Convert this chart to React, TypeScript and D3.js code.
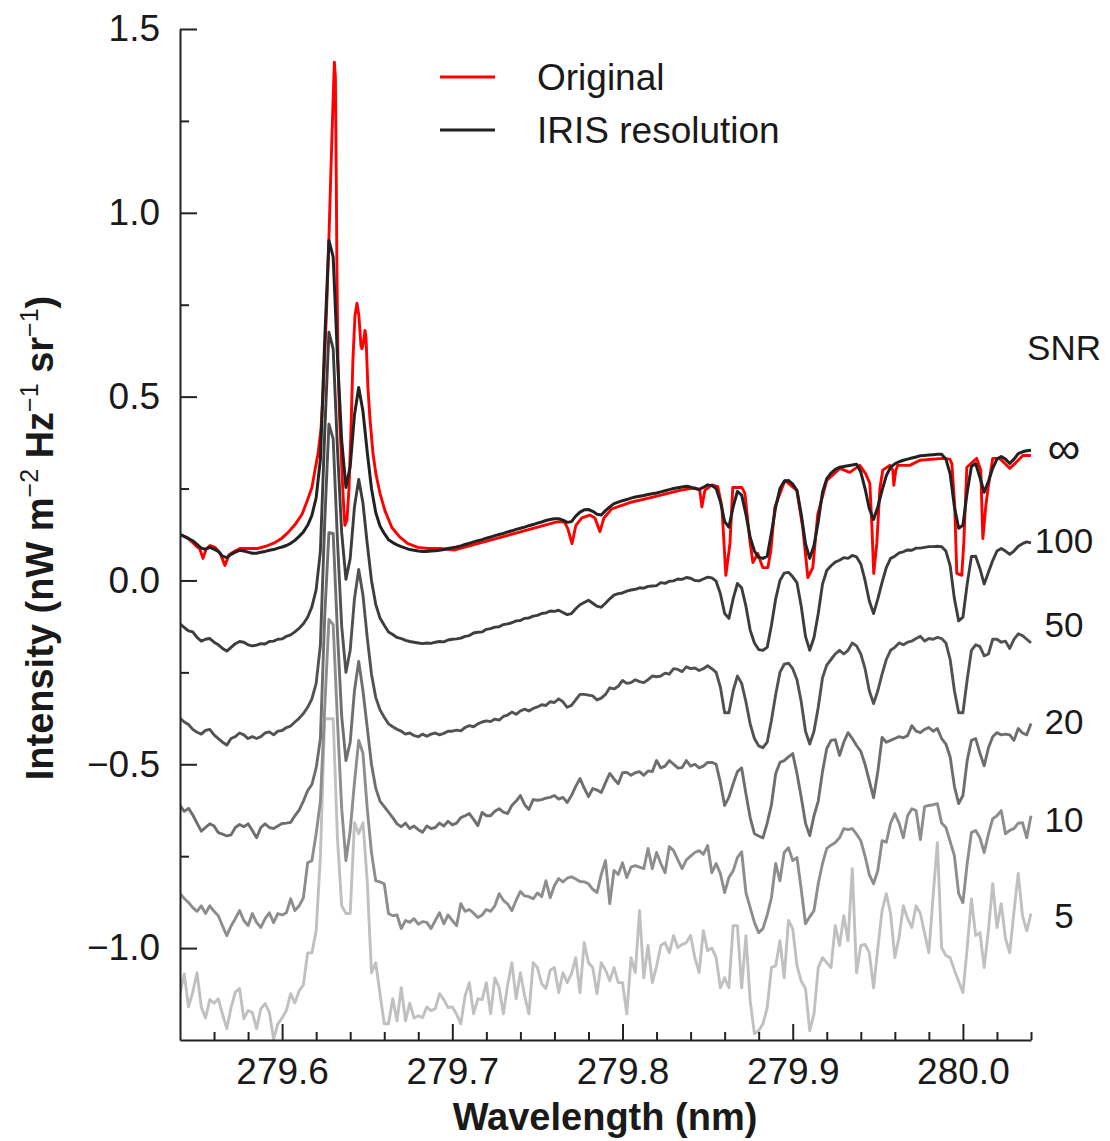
import { useEffect, useRef } from 'react';
import * as d3 from 'd3';

// IRIS detector grid (nm)
const WL_START = 279.54;
const WL_STEP = 0.0025;

// IRIS resolution spectrum (SNR = infinity)
const irisValues = [
  0.125, 0.12, 0.114, 0.108, 0.098, 0.088, 0.085, 0.09, 0.085, 0.079,
  0.066, 0.062, 0.071, 0.077, 0.082, 0.08, 0.077, 0.074, 0.074, 0.077,
  0.079, 0.082, 0.084, 0.088, 0.091, 0.095, 0.101, 0.109, 0.12, 0.132,
  0.15, 0.177, 0.225, 0.33, 0.65, 0.925, 0.88, 0.61, 0.38, 0.253,
  0.31, 0.45, 0.525, 0.46, 0.35, 0.25, 0.185, 0.148, 0.128, 0.111,
  0.103, 0.097, 0.092, 0.088, 0.084, 0.082, 0.08, 0.079, 0.079, 0.08,
  0.081, 0.082, 0.084, 0.087, 0.089, 0.091, 0.094, 0.098, 0.101, 0.105,
  0.108, 0.111, 0.115, 0.118, 0.122, 0.125, 0.128, 0.132, 0.135, 0.139,
  0.142, 0.145, 0.149, 0.152, 0.156, 0.159, 0.163, 0.166, 0.168, 0.168,
  0.164, 0.158, 0.16, 0.175, 0.186, 0.192, 0.193, 0.188, 0.18, 0.178,
  0.19, 0.2, 0.209, 0.213, 0.217, 0.22, 0.224, 0.227, 0.229, 0.231,
  0.234, 0.236, 0.238, 0.241, 0.244, 0.247, 0.25, 0.252, 0.254, 0.256,
  0.254, 0.25, 0.248, 0.253, 0.26, 0.258, 0.25, 0.215, 0.16, 0.145,
  0.2, 0.242, 0.232, 0.18, 0.117, 0.08, 0.063, 0.06, 0.066, 0.13,
  0.2, 0.25, 0.27, 0.272, 0.262, 0.245, 0.18, 0.1, 0.06, 0.095,
  0.16, 0.24, 0.277, 0.292, 0.302, 0.308, 0.31, 0.312, 0.314, 0.316,
  0.295, 0.25, 0.195, 0.166, 0.2, 0.245, 0.285, 0.308, 0.317, 0.323,
  0.327, 0.33, 0.333, 0.336, 0.339, 0.34, 0.341, 0.342, 0.343, 0.343,
  0.33, 0.29, 0.2, 0.142, 0.15, 0.24, 0.31, 0.318, 0.28, 0.24,
  0.27, 0.305, 0.33, 0.337, 0.33, 0.318, 0.33, 0.345, 0.35, 0.353,
  0.354,
];

const snr100Values = [
  -0.118, -0.128, -0.137, -0.14, -0.155, -0.165, -0.16, -0.158, -0.168, -0.175,
  -0.185, -0.192, -0.182, -0.172, -0.166, -0.168, -0.175, -0.178, -0.176, -0.172,
  -0.173, -0.166, -0.165, -0.16, -0.159, -0.152, -0.148, -0.14, -0.13, -0.118,
  -0.1, -0.072, -0.025, 0.08, 0.4, 0.675, 0.63, 0.36, 0.13, 0.003,
  0.06, 0.2, 0.275, 0.21, 0.1, 0.0, -0.065, -0.102, -0.122, -0.14,
  -0.147, -0.155, -0.158, -0.163, -0.166, -0.168, -0.17, -0.172, -0.17, -0.171,
  -0.168, -0.166, -0.167, -0.162, -0.16, -0.159, -0.157, -0.152, -0.15, -0.143,
  -0.141, -0.14, -0.133, -0.131, -0.127, -0.126, -0.12, -0.118, -0.115, -0.11,
  -0.109, -0.103, -0.102, -0.097, -0.095, -0.09, -0.088, -0.083, -0.084, -0.081,
  -0.087, -0.093, -0.09, -0.077, -0.066, -0.06, -0.054, -0.062, -0.07, -0.073,
  -0.062, -0.05, -0.04, -0.036, -0.034, -0.029, -0.026, -0.024, -0.02, -0.021,
  -0.016, -0.015, -0.014, -0.006, -0.008, -0.002, -0.001, 0.004, 0.003, 0.008,
  0.006, 0.0, -0.001, 0.004, 0.009, 0.007, -0.002, -0.036, -0.09, -0.103,
  -0.05, -0.008, -0.02, -0.07, -0.135, -0.17, -0.188, -0.19, -0.182, -0.122,
  -0.05, 0.0, 0.02, 0.022, 0.01, -0.006, -0.07, -0.152, -0.19, -0.155,
  -0.09, -0.01, 0.027, 0.04, 0.05, 0.055, 0.062, 0.06, 0.068, 0.064,
  0.045, 0.0, -0.056, -0.09, -0.05, -0.005, 0.035, 0.06, 0.066, 0.075,
  0.078, 0.083, 0.082, 0.088, 0.088, 0.09, 0.092, 0.092, 0.093, 0.092,
  0.08, 0.04, -0.05, -0.11, -0.1, -0.01, 0.065, 0.066, 0.032, -0.01,
  0.022, 0.054, 0.08, 0.087, 0.08, 0.071, 0.08, 0.093, 0.1, 0.105,
  0.102,
];

const snr50Values = [
  -0.375, -0.385, -0.392, -0.405, -0.413, -0.418, -0.408, -0.405, -0.42, -0.43,
  -0.44, -0.448, -0.43, -0.425, -0.415, -0.42, -0.43, -0.425, -0.43, -0.425,
  -0.415, -0.412, -0.42, -0.41, -0.408, -0.4, -0.396, -0.385, -0.375, -0.362,
  -0.345, -0.322, -0.28, -0.175, 0.155, 0.425, 0.385, 0.11, -0.125, -0.25,
  -0.19, -0.05, 0.03, -0.04, -0.155, -0.255, -0.318, -0.352, -0.372, -0.39,
  -0.398, -0.405, -0.41, -0.418, -0.415, -0.422, -0.425, -0.418, -0.424, -0.418,
  -0.415, -0.42, -0.416, -0.41, -0.41, -0.407, -0.409, -0.4, -0.395, -0.398,
  -0.39, -0.385, -0.382, -0.384, -0.377, -0.38, -0.37, -0.366, -0.358, -0.364,
  -0.355, -0.35, -0.355, -0.348, -0.344, -0.338, -0.34, -0.33, -0.332, -0.322,
  -0.33, -0.345, -0.34, -0.325, -0.31, -0.31, -0.312, -0.314, -0.325, -0.32,
  -0.31, -0.292, -0.295, -0.288, -0.272, -0.28, -0.278, -0.27, -0.275, -0.278,
  -0.27, -0.26, -0.262, -0.26, -0.252, -0.255, -0.24, -0.242, -0.248, -0.235,
  -0.24, -0.238, -0.245, -0.24, -0.232, -0.24, -0.25, -0.29, -0.36, -0.36,
  -0.3, -0.26, -0.28, -0.33, -0.39, -0.43, -0.45, -0.455, -0.44, -0.38,
  -0.31, -0.25, -0.228, -0.225, -0.24, -0.27, -0.33, -0.41, -0.445, -0.41,
  -0.345, -0.265, -0.23, -0.215, -0.2, -0.19, -0.2, -0.19, -0.17, -0.178,
  -0.2, -0.24, -0.3, -0.335, -0.3, -0.255, -0.215, -0.19, -0.182, -0.17,
  -0.175, -0.168, -0.165, -0.158, -0.152, -0.165, -0.158, -0.16, -0.155, -0.158,
  -0.17, -0.215, -0.3, -0.36, -0.36, -0.27, -0.19, -0.175, -0.18, -0.205,
  -0.2, -0.16, -0.16, -0.168, -0.165, -0.185, -0.16, -0.145, -0.15, -0.16,
  -0.17,
];

const snr20Values = [
  -0.612, -0.628, -0.62, -0.638, -0.66, -0.682, -0.672, -0.662, -0.668, -0.686,
  -0.69, -0.695, -0.692, -0.672, -0.664, -0.67, -0.662, -0.68, -0.7, -0.672,
  -0.662, -0.672, -0.675, -0.668, -0.661, -0.66, -0.658, -0.64, -0.625, -0.6,
  -0.572, -0.555, -0.51, -0.43, -0.1, 0.13, 0.128, -0.14, -0.37, -0.49,
  -0.44, -0.3, -0.22, -0.3, -0.4, -0.5, -0.565, -0.6, -0.615, -0.63,
  -0.645, -0.662, -0.67, -0.66, -0.675, -0.668, -0.678, -0.685, -0.668, -0.675,
  -0.672, -0.66, -0.668, -0.655, -0.665, -0.66, -0.645, -0.64, -0.634, -0.65,
  -0.667, -0.631, -0.64, -0.64, -0.628, -0.621, -0.63, -0.634, -0.612, -0.6,
  -0.585, -0.61, -0.623, -0.596, -0.598, -0.596, -0.592, -0.59, -0.585, -0.595,
  -0.59, -0.604, -0.585, -0.56, -0.539, -0.565, -0.588, -0.566, -0.57, -0.577,
  -0.55, -0.525, -0.54, -0.553, -0.523, -0.522, -0.53, -0.523, -0.52, -0.53,
  -0.518, -0.52, -0.49, -0.51, -0.505, -0.49, -0.5, -0.51, -0.509, -0.49,
  -0.505, -0.5, -0.51, -0.505, -0.495, -0.495, -0.5, -0.55, -0.612, -0.59,
  -0.553, -0.52, -0.51, -0.58, -0.645, -0.689, -0.695, -0.7, -0.66, -0.61,
  -0.525, -0.495, -0.49, -0.48, -0.471, -0.525, -0.59, -0.66, -0.694, -0.64,
  -0.6, -0.52, -0.457, -0.435, -0.433, -0.476, -0.44, -0.414, -0.43, -0.449,
  -0.465, -0.5, -0.545, -0.591, -0.52, -0.427, -0.44, -0.435, -0.43, -0.425,
  -0.428, -0.422, -0.395, -0.41, -0.414, -0.405, -0.4, -0.41, -0.403, -0.43,
  -0.445, -0.48, -0.56, -0.607, -0.585, -0.49, -0.435, -0.43, -0.47, -0.504,
  -0.455, -0.425, -0.414, -0.42, -0.418, -0.42, -0.435, -0.403, -0.415, -0.42,
  -0.389,
];

const snr10Values = [
  -0.852, -0.865, -0.876, -0.89, -0.9, -0.885, -0.906, -0.885, -0.9, -0.912,
  -0.94, -0.966, -0.94, -0.92, -0.898, -0.925, -0.939, -0.906, -0.93, -0.944,
  -0.92, -0.904, -0.931, -0.906, -0.91, -0.904, -0.866, -0.898, -0.885, -0.863,
  -0.768, -0.762, -0.689, -0.6, -0.35, -0.106, -0.12, -0.38, -0.62, -0.762,
  -0.68, -0.55, -0.435, -0.47, -0.62, -0.74, -0.817, -0.82, -0.825, -0.906,
  -0.912, -0.91, -0.947, -0.925, -0.93, -0.92, -0.935, -0.928, -0.93, -0.947,
  -0.925, -0.904, -0.934, -0.91, -0.925, -0.939, -0.879, -0.9, -0.895, -0.905,
  -0.917, -0.91, -0.895, -0.9, -0.885, -0.852, -0.87, -0.88, -0.898, -0.87,
  -0.846, -0.858, -0.86, -0.866, -0.85, -0.86, -0.817, -0.863, -0.83, -0.811,
  -0.82, -0.81, -0.806, -0.812, -0.819, -0.82, -0.825, -0.84, -0.849, -0.8,
  -0.762, -0.879, -0.789, -0.8, -0.768, -0.808, -0.78, -0.776, -0.78, -0.784,
  -0.729, -0.784, -0.74, -0.77, -0.795, -0.724, -0.735, -0.76, -0.784, -0.76,
  -0.75, -0.74, -0.735, -0.745, -0.721, -0.795, -0.77, -0.797, -0.849, -0.808,
  -0.79, -0.754, -0.738, -0.849, -0.89, -0.93, -0.958, -0.947, -0.91, -0.863,
  -0.77, -0.817, -0.74, -0.727, -0.762, -0.754, -0.84, -0.934, -0.915, -0.898,
  -0.825, -0.77, -0.729, -0.72, -0.713, -0.7, -0.675, -0.678, -0.675, -0.69,
  -0.708, -0.75, -0.8, -0.825, -0.789, -0.708, -0.712, -0.66, -0.634, -0.66,
  -0.7, -0.64, -0.621, -0.626, -0.705, -0.615, -0.612, -0.61, -0.607, -0.66,
  -0.672, -0.71, -0.749, -0.852, -0.876, -0.77, -0.686, -0.68, -0.7, -0.74,
  -0.69, -0.648, -0.64, -0.626, -0.689, -0.68, -0.675, -0.66, -0.659, -0.7,
  -0.64,
];

const snr5Values = [
  -1.124, -1.07, -1.16, -1.12, -1.067, -1.16, -1.19, -1.14, -1.15, -1.138,
  -1.18, -1.219, -1.162, -1.12, -1.11, -1.192, -1.17, -1.175, -1.219, -1.165,
  -1.151, -1.175, -1.247, -1.206, -1.19, -1.17, -1.124, -1.149, -1.116, -1.1,
  -1.013, -1.013, -0.953, -0.75, -0.376, -0.376, -0.376, -0.7, -0.885, -0.906,
  -0.906, -0.659, -0.689, -0.659, -0.817, -1.067, -1.04, -1.124, -1.206, -1.206,
  -1.138, -1.198, -1.108, -1.198, -1.15, -1.19, -1.184, -1.189, -1.16, -1.17,
  -1.165, -1.124, -1.14, -1.162, -1.16, -1.18, -1.206, -1.13, -1.094, -1.179,
  -1.138, -1.14, -1.094, -1.179, -1.081, -1.108, -1.179, -1.1, -1.04, -1.138,
  -1.067, -1.13, -1.179, -1.04, -1.053, -1.097, -1.11, -1.06, -1.053, -1.121,
  -1.067, -1.094, -1.07, -1.026, -1.121, -0.985, -1.04, -1.053, -1.124, -1.04,
  -1.06, -1.089, -1.053, -1.094, -1.094, -1.179, -1.026, -1.067, -0.898, -1.081,
  -0.993, -1.094, -1.05, -0.993, -0.985, -1.013, -0.966, -0.999, -0.99, -0.985,
  -0.966, -1.026, -1.067, -0.953, -1.007, -1.0, -1.026, -1.108, -1.081, -1.108,
  -0.939, -0.939, -1.108, -0.966, -1.143, -1.233, -1.225, -1.206, -1.162, -1.053,
  -1.048, -0.98, -1.081, -0.925, -0.947, -1.048, -1.09, -1.11, -1.225, -1.179,
  -1.053, -1.026, -1.04, -1.053, -0.939, -0.993, -0.912, -0.98, -0.784, -1.067,
  -0.993, -0.99, -1.013, -1.108, -1.0, -0.898, -0.852, -0.906, -1.026, -0.97,
  -0.885, -0.92, -0.944, -0.885, -0.906, -0.96, -1.013, -0.857, -0.713, -0.999,
  -1.02, -1.026, -1.06, -1.09, -1.121, -1.0, -0.866, -0.966, -0.958, -1.053,
  -0.95, -0.825, -0.944, -0.879, -0.974, -1.013, -0.9, -0.797, -0.912, -0.953,
  -0.906,
];

// Original (full resolution) spectrum
const origWavelengths = [
  279.54, 279.5447, 279.5488, 279.5517, 279.5535, 279.5553, 279.5576, 279.5606, 279.5635, 279.5664,
  279.5688, 279.5723, 279.5752, 279.5811, 279.5858, 279.5905, 279.5958, 279.5999, 279.6034, 279.6076,
  279.6117, 279.6146, 279.6175, 279.6193, 279.6211, 279.6228, 279.624, 279.6252, 279.6263, 279.6275,
  279.6287, 279.6299, 279.6307, 279.6313, 279.6318, 279.6322, 279.6328, 279.6337, 279.6346, 279.6354,
  279.6363, 279.6369, 279.6381,
  279.6393, 279.6404, 279.6416, 279.6428, 279.644, 279.6451, 279.6463, 279.6469, 279.6475, 279.6487,
  279.6493, 279.6504, 279.6516, 279.6534, 279.6551, 279.6575, 279.6604, 279.6645, 279.6692, 279.6739,
  279.6798, 279.6857, 279.6927, 279.7015, 279.7603, 279.7632, 279.7661, 279.7679, 279.7703, 279.7726,
  279.7761, 279.7808, 279.7838, 279.7867, 279.7891, 279.7937, 279.8043, 279.819, 279.8337, 279.8425,
  279.8454, 279.8466, 279.8484, 279.8525, 279.856, 279.8584, 279.8607, 279.8631, 279.8648, 279.8701,
  279.8719, 279.8748, 279.8766, 279.8795, 279.8824, 279.8854, 279.8871, 279.8895, 279.8954, 279.9024,
  279.9059, 279.9089, 279.9118, 279.9147, 279.92, 279.9277, 279.9335, 279.9394, 279.9429, 279.9453,
  279.9465, 279.9476, 279.9494, 279.9512, 279.9529, 279.957, 279.9588, 279.9594, 279.9606, 279.9617,
  279.9688, 279.9747, 279.9882, 279.9923, 279.9935, 279.9952, 279.9964, 279.9993, 280.0005, 280.0023,
  280.0081, 280.0105, 280.0117, 280.0134, 280.0146, 280.0175, 280.0216, 280.0275, 280.031, 280.0352,
  280.0399,
];
const origValues = [
  0.125, 0.115, 0.097, 0.085, 0.06, 0.085, 0.095, 0.09, 0.075, 0.041,
  0.07, 0.08, 0.087, 0.087, 0.087, 0.093, 0.103, 0.115, 0.13, 0.152,
  0.18, 0.215, 0.253, 0.3, 0.345, 0.41, 0.5, 0.63, 0.76, 0.93,
  1.12, 1.3, 1.41, 1.37, 1.1, 0.85, 0.6, 0.45, 0.36, 0.27,
  0.19, 0.15, 0.165,
  0.25, 0.4, 0.6, 0.72, 0.754, 0.72, 0.64, 0.63, 0.64, 0.68,
  0.66, 0.525, 0.44, 0.345, 0.29, 0.237, 0.19, 0.144, 0.118, 0.1,
  0.09, 0.087, 0.087, 0.083, 0.158, 0.16, 0.158, 0.14, 0.1, 0.15,
  0.17, 0.178, 0.17, 0.133, 0.17, 0.195, 0.212, 0.228, 0.245, 0.252,
  0.245, 0.2, 0.245, 0.26, 0.255, 0.2, 0.014, 0.1, 0.253, 0.253,
  0.237, 0.109, 0.049, 0.073, 0.035, 0.035, 0.08, 0.199, 0.272, 0.245,
  0.144, 0.008, 0.035, 0.18, 0.272, 0.305, 0.294, 0.313, 0.29, 0.264,
  0.15, 0.019, 0.1, 0.25, 0.3, 0.313, 0.3, 0.259, 0.3, 0.313,
  0.313, 0.327, 0.332, 0.33, 0.318, 0.2, 0.019, 0.014, 0.1, 0.308,
  0.332, 0.3, 0.114, 0.2, 0.245, 0.332, 0.332, 0.305, 0.32, 0.34,
  0.34,
];

// SNR labels on the right, with the intensity they sit at
const snrLabels = ['\u221E', '100', '50', '20', '10', '5'];
const snrLabelLevels = [0.36, 0.11, -0.12, -0.385, -0.65, -0.91];

const C = {
  red: '#ff0000',
  iris: '#222222',
  axis: '#222222',
  text: '#1a1a1a',
};
const noisyColors = ['#3d3d3d', '#525252', '#6e6e6e', '#8d8d8d', '#c0c0c0'];

const FONT = '"Liberation Sans", Arial, sans-serif';

export default function App() {
  const svgRef = useRef<SVGSVGElement>(null);

  useEffect(() => {
    if (!svgRef.current) return;
    const svg = d3.select(svgRef.current);
    svg.selectAll('*').remove();

    const left = 180, right = 1031, top = 29, bottom = 1040;
    const x = d3.scaleLinear().domain([279.54, 280.04]).range([left, right]);
    const y = d3.scaleLinear().domain([-1.25, 1.5]).range([bottom, top]);

    svg.append('rect').attr('width', 1110).attr('height', 1141).attr('fill', '#fff');

    svg.append('defs').append('clipPath').attr('id', 'plot-clip')
      .append('rect')
      .attr('x', left).attr('y', top - 2)
      .attr('width', right - left + 2).attr('height', bottom - top + 2);

    const grid = irisValues.map((_, i) => WL_START + i * WL_STEP);
    const line = d3.line<[number, number]>()
      .x(d => x(d[0]))
      .y(d => y(d[1]));

    const plot = svg.append('g').attr('clip-path', 'url(#plot-clip)');

    // noisy spectra, faintest first
    const noisy = [snr100Values, snr50Values, snr20Values, snr10Values, snr5Values];
    for (let k = noisy.length - 1; k >= 0; k--) {
      const pts = noisy[k].map((v, i) => [grid[i], v] as [number, number]);
      plot.append('path')
        .attr('d', line(pts))
        .attr('fill', 'none')
        .attr('stroke', noisyColors[k])
        .attr('stroke-width', 2.9)
        .attr('stroke-linejoin', 'round');
    }

    const n = Math.min(origWavelengths.length, origValues.length);
    const origPts = d3.range(n).map(i => [origWavelengths[i], origValues[i]] as [number, number]);
    plot.append('path')
      .attr('d', line(origPts))
      .attr('fill', 'none')
      .attr('stroke', C.red)
      .attr('stroke-width', 2.9)
      .attr('stroke-linejoin', 'round');

    const irisPts = irisValues.map((v, i) => [grid[i], v] as [number, number]);
    plot.append('path')
      .attr('d', line(irisPts))
      .attr('fill', 'none')
      .attr('stroke', C.iris)
      .attr('stroke-width', 3)
      .attr('stroke-linejoin', 'round');

    // axes: ticks point inward
    const fmt = d3.format('.1f');
    const yMajor = [-1.0, -0.5, 0.0, 0.5, 1.0, 1.5];
    const yMinor = [-0.75, -0.25, 0.25, 0.75, 1.25];
    const xMajor = [279.6, 279.7, 279.8, 279.9, 280.0];
    const xMinor = [279.56, 279.58, 279.62, 279.64, 279.66, 279.68, 279.72, 279.74, 279.76, 279.78,
      279.82, 279.84, 279.86, 279.88, 279.92, 279.94, 279.96, 279.98, 280.02, 280.04];

    const yAxis = svg.append('g')
      .attr('transform', `translate(${left},0)`)
      .call(d3.axisLeft(y).tickValues(yMajor).tickFormat(d => fmt(d as number))
        .tickSizeInner(-17).tickSizeOuter(0).tickPadding(20));
    svg.append('g')
      .attr('transform', `translate(${left},0)`)
      .call(d3.axisLeft(y).tickValues(yMinor).tickFormat(() => '')
        .tickSizeInner(-9).tickSizeOuter(0))
      .select('.domain').remove();

    const xAxis = svg.append('g')
      .attr('transform', `translate(0,${bottom})`)
      .call(d3.axisBottom(x).tickValues(xMajor).tickFormat(d => fmt(d as number))
        .tickSizeInner(-16).tickSizeOuter(0).tickPadding(18));
    svg.append('g')
      .attr('transform', `translate(0,${bottom})`)
      .call(d3.axisBottom(x).tickValues(xMinor).tickFormat(() => '')
        .tickSizeInner(-8).tickSizeOuter(0))
      .select('.domain').remove();

    svg.selectAll('.domain').attr('stroke', C.axis).attr('stroke-width', 2);
    svg.selectAll('.tick line').attr('stroke', C.axis).attr('stroke-width', 2);
    [yAxis, xAxis].forEach(a => {
      a.attr('font-family', FONT).attr('font-size', 37);
      a.selectAll('text').attr('fill', C.text);
    });

    // axis titles
    const yTitle = svg.append('text')
      .attr('transform', 'translate(53,538) rotate(-90)')
      .attr('text-anchor', 'middle')
      .attr('font-family', FONT)
      .attr('font-size', 38)
      .attr('font-weight', 700)
      .attr('fill', C.text);
    yTitle.append('tspan').text('Intensity (nW m');
    yTitle.append('tspan').attr('dy', -15).attr('font-size', 25).attr('font-weight', 400).text('\u22122');
    yTitle.append('tspan').attr('dy', 15).text(' Hz');
    yTitle.append('tspan').attr('dy', -15).attr('font-size', 25).attr('font-weight', 400).text('\u22121');
    yTitle.append('tspan').attr('dy', 15).text(' sr');
    yTitle.append('tspan').attr('dy', -15).attr('font-size', 25).attr('font-weight', 400).text('\u22121');
    yTitle.append('tspan').attr('dy', 15).text(')');

    svg.append('text')
      .attr('x', 605)
      .attr('y', 1130)
      .attr('text-anchor', 'middle')
      .attr('font-family', FONT)
      .attr('font-size', 38)
      .attr('font-weight', 700)
      .attr('fill', C.text)
      .text('Wavelength (nm)');

    // legend
    const legend = [
      { label: 'Original', color: C.red, ly: 77 },
      { label: 'IRIS resolution', color: C.iris, ly: 130 },
    ];
    legend.forEach(l => {
      svg.append('line')
        .attr('x1', 440).attr('x2', 495)
        .attr('y1', l.ly).attr('y2', l.ly)
        .attr('stroke', l.color)
        .attr('stroke-width', 3);
      svg.append('text')
        .attr('x', 537)
        .attr('y', l.ly)
        .attr('dominant-baseline', 'central')
        .attr('font-family', FONT)
        .attr('font-size', 37)
        .attr('fill', C.text)
        .text(l.label);
    });

    // SNR annotations
    svg.append('text')
      .attr('x', 1064)
      .attr('y', 347)
      .attr('text-anchor', 'middle')
      .attr('dominant-baseline', 'central')
      .attr('font-family', FONT)
      .attr('font-size', 35)
      .attr('fill', C.text)
      .text('SNR');
    snrLabels.forEach((s, i) => {
      svg.append('text')
        .attr('x', 1064)
        .attr('y', y(snrLabelLevels[i]))
        .attr('text-anchor', 'middle')
        .attr('dominant-baseline', 'central')
        .attr('font-family', FONT)
        .attr('font-size', i === 0 ? 46 : 35)
        .attr('fill', C.text)
        .text(s);
    });
  }, []);

  return (
    <div style={{ position: 'absolute', left: 0, top: 0, width: 1110, height: 1141, background: '#fff' }}>
      <svg ref={svgRef} width={1110} height={1141} style={{ display: 'block' }} />
    </div>
  );
}
